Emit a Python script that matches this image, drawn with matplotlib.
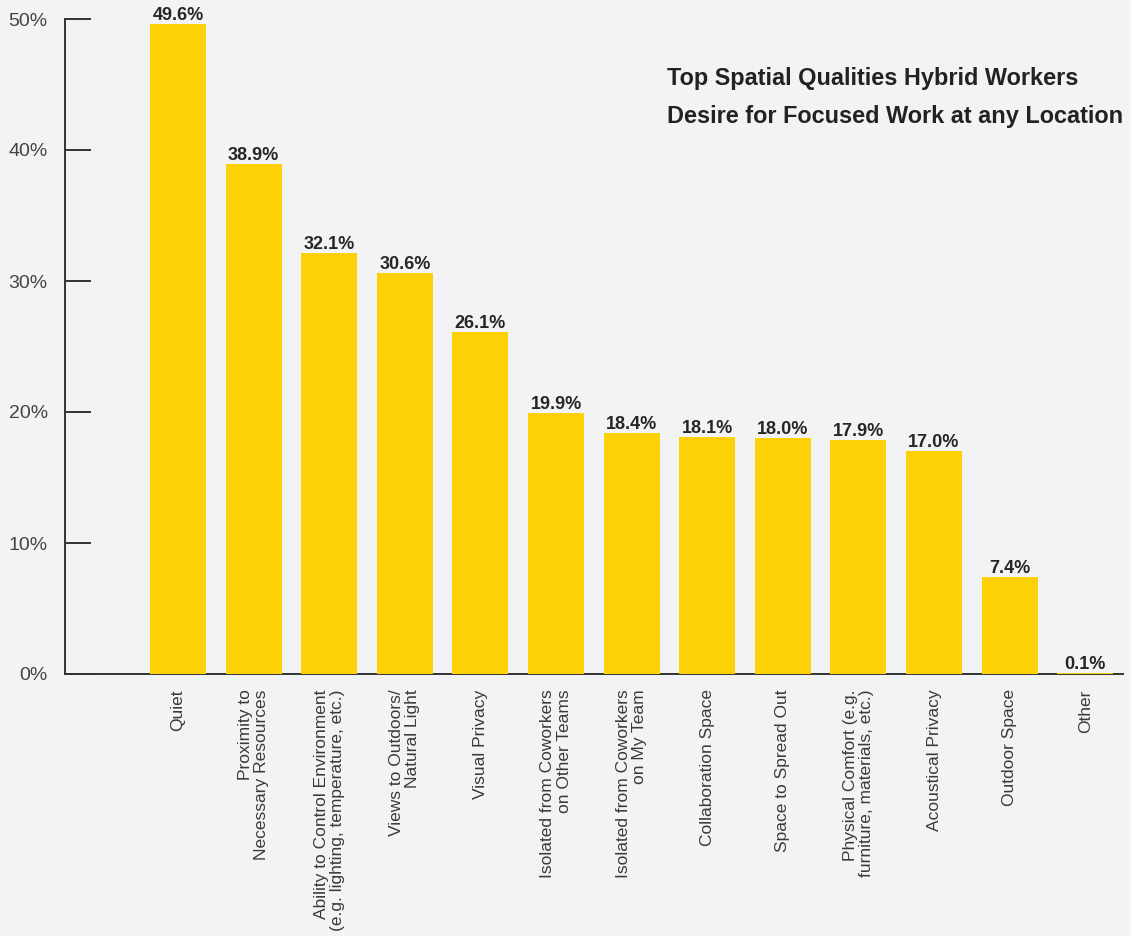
import numpy as np
import matplotlib
matplotlib.use('Agg')
import matplotlib.pyplot as plt

categories = ['Quiet', 'Proximity to\nNecessary Resources',
              'Ability to Control Environment\n(e.g. lighting, temperature, etc.)',
              'Views to Outdoors/\nNatural Light', 'Visual Privacy',
              'Isolated from Coworkers\non Other Teams', 'Isolated from Coworkers\non My Team',
              'Collaboration Space', 'Space to Spread Out',
              'Physical Comfort (e.g.\nfurniture, materials, etc.)',
              'Acoustical Privacy', 'Outdoor Space', 'Other']
values = [49.6, 38.9, 32.1, 30.6, 26.1, 19.9, 18.4, 18.1, 18.0, 17.9, 17.0, 7.4, 0.1]
yticks = [0, 10, 20, 30, 40, 50]

bg = '#f2f3f5'
plt.rcParams['font.family'] = ['Liberation Sans', 'DejaVu Sans']

fig = plt.figure(figsize=(11.31, 9.36), dpi=100, facecolor=bg)
ax = fig.add_axes([65 / 1131, 1 - 674 / 936, 1058 / 1131, 655 / 936])
ax.set_facecolor(bg)

x = np.arange(len(categories))
ax.bar(x, values, width=0.74, color='#fdd106', zorder=3)
for xi, v in zip(x, values):
    ax.annotate(f'{v:.1f}%', (xi, v), xytext=(0, 0), textcoords='offset points',
                ha='center', va='bottom', fontsize=13, fontweight='bold',
                color='#262626', annotation_clip=False)

ax.set_xlim(-1.495, 12.5)
ax.set_ylim(0, 50)

ax.set_yticks(yticks)
ax.set_yticklabels([f'{t}%' for t in yticks], fontsize=14, color='#444444')
ax.tick_params(axis='y', direction='in', length=19, width=1.4, color='#333333', pad=12.5)

ax.set_xticks(x)
ax.set_xticklabels(categories, rotation=90, fontsize=12.5, color='#3a3a3a', linespacing=1.1)
for lbl in ax.get_xticklabels():
    lbl.set_multialignment('right')
ax.tick_params(axis='x', length=0, pad=11)

for s in ['top', 'right']:
    ax.spines[s].set_visible(False)
for s in ['left', 'bottom']:
    ax.spines[s].set_color('#333333')
    ax.spines[s].set_linewidth(1.4)

fig.text(667 / 1131, 1 - 78 / 936, 'Top Spatial Qualities Hybrid Workers',
         fontsize=16.9, fontweight='bold', color='#222222', va='center', ha='left')
fig.text(667 / 1131, 1 - 116 / 936, 'Desire for Focused Work at any Location',
         fontsize=16.9, fontweight='bold', color='#222222', va='center', ha='left')

fig.savefig('out.png', dpi=100, facecolor=bg)
